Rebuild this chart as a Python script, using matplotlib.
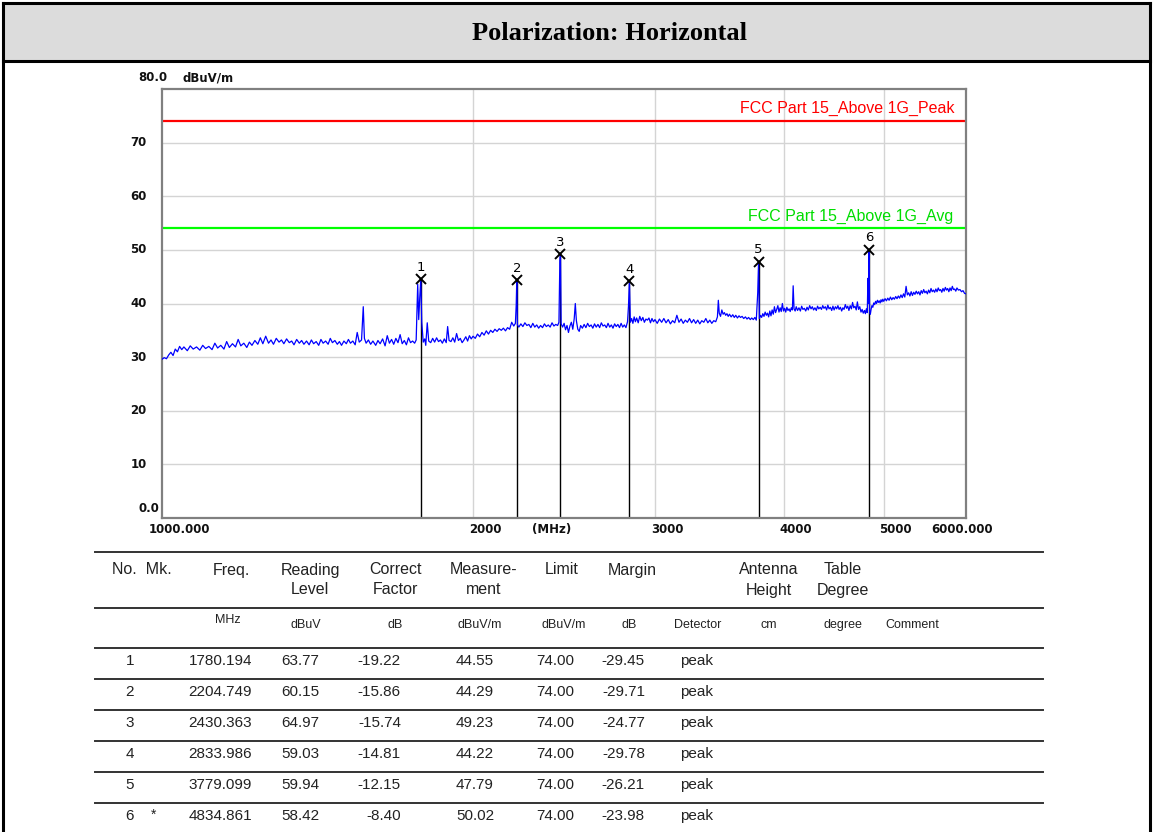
# Radiated emission plot + marker table (Polarization: Horizontal)

import matplotlib.pyplot as plt
from matplotlib.patches import Rectangle

# marker table
mk_no = ['1', '2', '3', '4', '5', '6']
mk_flag = ['', '', '', '', '', '*']
mk_freq = [1780.194, 2204.749, 2430.363, 2833.986, 3779.099, 4834.861]
reading = [63.77, 60.15, 64.97, 59.03, 59.94, 58.42]
correct = [-19.22, -15.86, -15.74, -14.81, -12.15, -8.40]
measure = [44.55, 44.29, 49.23, 44.22, 47.79, 50.02]
limit = [74.00, 74.00, 74.00, 74.00, 74.00, 74.00]
margin = [-29.45, -29.71, -24.77, -29.78, -26.21, -23.98]
detector = ['peak', 'peak', 'peak', 'peak', 'peak', 'peak']

# limit lines
peak_limit = 74.0
avg_limit = 54.0

# scanned trace, marker peaks are added from the table
trace_freq = [
    1000, 1005, 1010, 1015, 1020, 1025, 1030, 1035, 1040, 1045, 1050, 1058, 1065, 1072, 1080,
    1088, 1095, 1102, 1110, 1118, 1125, 1132, 1140, 1148, 1155, 1162, 1170, 1178, 1185, 1192,
    1200, 1208, 1215, 1222, 1230, 1238, 1245, 1252, 1260, 1268, 1275, 1282, 1290, 1298, 1305,
    1312, 1320, 1328, 1335, 1342, 1350, 1358, 1365, 1372, 1380, 1388, 1395, 1402, 1410, 1418,
    1425, 1432, 1440, 1448, 1455, 1462, 1470, 1478, 1485, 1492, 1500, 1508, 1515, 1522, 1530,
    1538, 1545, 1552, 1560, 1566, 1570, 1576, 1584, 1592, 1600, 1610, 1618, 1626, 1635, 1644,
    1652, 1660, 1668, 1676, 1684, 1692, 1700, 1708, 1716, 1724, 1732, 1740, 1748, 1756, 1762,
    1768, 1772, 1776, 1784, 1790, 1796, 1800, 1806, 1812, 1820, 1828, 1836, 1844, 1852, 1860,
    1868, 1876, 1884, 1890, 1896, 1904, 1912, 1920, 1928, 1936, 1944, 1952, 1960, 1968, 1976,
    1984, 1992, 2000, 2010, 2020, 2030, 2040, 2050, 2060, 2070, 2080, 2090, 2100, 2110, 2120,
    2130, 2140, 2150, 2160, 2170, 2180, 2190, 2198, 2202, 2208, 2215, 2225, 2235, 2245, 2255,
    2265, 2275, 2285, 2295, 2305, 2315, 2325, 2335, 2345, 2355, 2365, 2375, 2385, 2395, 2405,
    2415, 2422, 2427, 2434, 2442, 2450, 2458, 2466, 2474, 2482, 2490, 2498, 2506, 2512, 2518,
    2526, 2534, 2542, 2552, 2562, 2572, 2582, 2592, 2602, 2612, 2622, 2632, 2642, 2652, 2662,
    2672, 2682, 2692, 2702, 2712, 2722, 2732, 2742, 2752, 2762, 2772, 2782, 2792, 2802, 2812,
    2822, 2828, 2840, 2848, 2856, 2864, 2872, 2880, 2890, 2900, 2910, 2920, 2930, 2940, 2950,
    2960, 2970, 2980, 2990, 3000, 3015, 3030, 3045, 3060, 3075, 3090, 3105, 3120, 3135, 3150,
    3165, 3180, 3195, 3210, 3225, 3240, 3255, 3270, 3285, 3300, 3315, 3330, 3345, 3360, 3375,
    3390, 3405, 3420, 3435, 3448, 3455, 3462, 3472, 3482, 3492, 3502, 3512, 3522, 3532, 3542,
    3555, 3568, 3580, 3592, 3605, 3618, 3630, 3643, 3656, 3670, 3683, 3696, 3710, 3722, 3735,
    3748, 3760, 3772, 3786, 3795, 3805, 3815, 3825, 3835, 3845, 3855, 3865, 3875, 3885, 3895,
    3905, 3915, 3925, 3935, 3945, 3955, 3965, 3975, 3985, 3995, 4005, 4015, 4025, 4035, 4045,
    4055, 4065, 4075, 4082, 4090, 4100, 4110, 4122, 4135, 4148, 4160, 4172, 4185, 4198, 4210,
    4222, 4235, 4248, 4260, 4272, 4285, 4298, 4310, 4322, 4335, 4348, 4360, 4372, 4385, 4398,
    4410, 4422, 4435, 4448, 4460, 4472, 4485, 4498, 4510, 4522, 4535, 4548, 4560, 4572, 4585,
    4598, 4610, 4622, 4635, 4648, 4660, 4672, 4685, 4698, 4710, 4722, 4735, 4748, 4760, 4772,
    4785, 4795, 4805, 4815, 4822, 4826, 4840, 4848, 4856, 4865, 4875, 4885, 4895, 4905, 4915,
    4925, 4935, 4945, 4955, 4965, 4975, 4985, 4995, 5010, 5025, 5040, 5055, 5070, 5085, 5100,
    5115, 5130, 5145, 5160, 5175, 5190, 5205, 5220, 5235, 5250, 5265, 5280, 5295, 5310, 5325,
    5340, 5355, 5370, 5385, 5400, 5415, 5430, 5445, 5460, 5475, 5490, 5505, 5520, 5535, 5550,
    5565, 5580, 5595, 5610, 5625, 5640, 5655, 5670, 5685, 5700, 5715, 5730, 5745, 5760, 5775,
    5790, 5805, 5820, 5835, 5850, 5865, 5880, 5900, 5920, 5940, 5960, 5980, 6000,
]
trace_level = [
    29.6, 29.9, 29.7, 30.4, 30.9, 30.3, 31.5, 31.0, 32.0, 31.4, 31.9, 31.2, 32.1, 31.5, 31.9,
    31.3, 32.2, 31.6, 32.0, 31.4, 32.6, 31.7, 32.2, 31.5, 32.9, 31.8, 32.5, 31.9, 33.3, 32.1,
    32.6, 31.8, 32.8, 32.2, 33.1, 32.4, 33.6, 32.5, 33.9, 32.6, 33.2, 32.4, 33.5, 32.8, 33.2,
    32.5, 33.4, 32.7, 33.0, 32.3, 33.3, 32.6, 33.1, 32.4, 33.0, 32.3, 33.2, 32.5, 32.9, 32.2,
    33.3, 32.6, 33.0, 32.4, 33.5, 32.7, 33.1, 32.4, 32.9, 32.2, 33.0, 32.5, 33.3, 32.6, 33.0,
    32.3, 34.6, 32.8, 33.2, 39.4, 33.5, 32.6, 33.2, 32.4, 33.0, 32.2, 33.1, 32.5, 33.4, 32.1,
    34.0, 32.6, 33.3, 32.4, 33.5, 32.7, 34.2, 32.5, 33.1, 32.3, 33.6, 32.7, 33.0, 32.6, 33.2,
    43.6, 37.0, 41.0, 36.5, 32.8, 33.4, 32.2, 36.4, 33.0, 32.7, 33.5, 32.8, 33.6, 32.9, 33.2,
    32.6, 33.4, 32.7, 35.7, 33.1, 32.9, 33.6, 32.8, 34.4, 33.1, 33.5, 32.7, 33.2, 33.8, 33.0,
    34.0, 33.4, 33.9, 33.5, 34.3, 33.8, 34.6, 34.1, 34.9, 34.3, 35.0, 34.6, 35.2, 34.8, 35.3,
    35.0, 35.4, 34.9, 35.5, 35.2, 36.5, 35.8, 36.3, 39.7, 36.0, 35.6, 36.2, 35.7, 36.4, 35.9,
    36.1, 35.5, 36.3, 35.6, 36.0, 35.4, 35.9, 35.5, 36.2, 35.7, 36.0, 35.6, 36.4, 35.8, 36.1,
    35.9, 36.5, 48.0, 36.2, 35.6, 36.3, 35.1, 35.9, 34.6, 35.8, 36.5, 35.2, 37.2, 40.0, 36.8,
    35.2, 34.8, 35.9, 35.4, 36.1, 35.5, 36.3, 35.7, 36.0, 35.4, 36.2, 35.6, 36.1, 35.5, 36.4,
    35.8, 36.0, 35.5, 36.3, 35.6, 36.0, 35.4, 36.2, 35.7, 36.1, 35.5, 36.3, 35.6, 36.0, 35.5,
    36.6, 39.5, 36.5, 37.2, 36.3, 37.5, 36.6, 37.3, 36.4, 37.6, 36.8, 37.4, 36.5, 37.1, 36.9,
    37.3, 36.4, 37.2, 36.6, 37.0, 36.3, 37.1, 36.5, 37.2, 36.4, 37.0, 36.2, 36.8, 36.4, 37.8,
    36.5, 37.1, 36.3, 36.9, 36.5, 37.2, 36.4, 37.0, 36.3, 36.9, 36.2, 36.8, 36.5, 37.2, 36.4,
    36.9, 36.3, 36.8, 36.6, 37.5, 40.6, 38.2, 37.6, 38.8, 38.0, 38.3, 37.8, 38.1, 37.6, 38.0,
    37.5, 37.9, 37.4, 37.8, 37.3, 37.7, 37.4, 37.6, 37.2, 37.5, 37.1, 37.4, 37.0, 37.3, 37.0,
    37.4, 36.9, 42.0, 37.2, 37.8, 37.4, 38.1, 37.6, 38.4, 37.8, 38.2, 37.5, 38.6, 37.7, 38.8,
    38.0, 39.4, 38.3, 38.9, 39.6, 38.4, 39.2, 38.5, 40.0, 38.6, 39.1, 38.4, 39.3, 38.7, 39.0,
    38.5, 39.2, 38.8, 43.3, 39.0, 38.6, 39.4, 38.7, 39.2, 38.6, 39.5, 38.9, 39.1, 38.6, 39.3,
    38.8, 39.6, 39.0, 39.4, 38.8, 39.2, 38.7, 39.5, 39.0, 39.3, 38.9, 39.6, 39.1, 39.4, 38.8,
    39.7, 39.0, 39.3, 38.7, 39.5, 38.8, 39.4, 39.0, 39.6, 38.9, 39.3, 38.6, 39.2, 38.9, 39.8,
    39.1, 39.5, 38.7, 39.6, 39.0, 40.2, 39.2, 39.5, 38.8, 40.3, 38.9, 39.4, 38.4, 38.9, 38.2,
    38.7, 38.1, 39.0, 38.3, 44.7, 40.0, 38.6, 38.0, 38.9, 39.6, 39.3, 40.1, 39.8, 40.4, 40.0,
    40.6, 40.2, 40.5, 40.1, 40.7, 40.3, 40.8, 40.4, 40.9, 40.5, 41.0, 40.6, 41.2, 40.7, 41.1,
    40.8, 41.3, 40.9, 41.4, 41.0, 41.6, 41.1, 41.8, 41.2, 43.2, 41.6, 42.0, 41.4, 42.2, 41.5,
    42.1, 41.7, 42.3, 41.8, 42.2, 41.6, 42.4, 41.9, 42.6, 42.0, 42.3, 41.8, 42.5, 42.0, 42.8,
    42.2, 42.5, 42.1, 42.7, 42.2, 42.9, 42.4, 42.6, 42.1, 42.8, 42.3, 43.0, 42.5, 42.8, 42.2,
    42.9, 42.4, 43.2, 42.6, 42.7, 42.3, 42.9, 42.5, 42.6, 42.2, 42.4, 41.9, 41.8,
]

# put the marker peaks into the trace
pts = sorted(zip(trace_freq + mk_freq, trace_level + measure))
all_freq = [p[0] for p in pts]
all_level = [p[1] for p in pts]

W, H = 1153, 832
fig = plt.figure(figsize=(W / 100, H / 100), dpi=100)

# page background: frame, title box, table
bg = fig.add_axes([0, 0, 1, 1])
bg.set_xlim(0, W)
bg.set_ylim(H, 0)
bg.axis('off')
bg.add_patch(Rectangle((3, 3), 1147, 58, facecolor='#dcdcdc', edgecolor='none'))
bg.plot([3, 1150], [3, 3], color='k', lw=2.2)
bg.plot([3, 1150], [61, 61], color='k', lw=2.2)
bg.plot([3, 3], [3, H], color='k', lw=2.2)
bg.plot([1150, 1150], [3, H], color='k', lw=2.2)
bg.text(609, 33, 'Polarization: Horizontal', ha='center', va='center',
        fontsize=19, fontweight='bold', family='Liberation Serif')

tf = dict(family='Liberation Sans', color='#222222')
# header
for y in [552, 608, 648, 679, 710, 741, 772, 803]:
    bg.plot([95, 1043], [y, y], color='#333333', lw=1.4)
bg.text(112, 570, 'No.  Mk.', ha='left', va='center', fontsize=11.5, **tf)
head = [(231, 'Freq.', ''), (310, 'Reading', 'Level'), (395, 'Correct', 'Factor'),
        (484, 'Measure-', 'ment'), (562, 'Limit', ''), (632, 'Margin', ''),
        (769, 'Antenna', 'Height'), (843, 'Table', 'Degree')]
for x, l1, l2 in head:
    bg.text(x, 570, l1, ha='center', va='center', fontsize=11.5, **tf)
    if l2:
        bg.text(x, 590, l2, ha='center', va='center', fontsize=11.5, **tf)
units = [(228, 'MHz'), (306, 'dBuV'), (395, 'dB'), (480, 'dBuV/m'), (564, 'dBuV/m'),
         (629, 'dB'), (698, 'Detector'), (769, 'cm'), (843, 'degree'), (912, 'Comment')]
for x, u in units:
    bg.text(x, 620 if u == 'MHz' else 625, u, ha='center', va='center', fontsize=9, **tf)

# rows
for i in range(len(mk_no)):
    y = 661 + i * 31
    bg.text(130, y, mk_no[i], ha='center', va='center', fontsize=11, **tf)
    bg.text(154, y - 1, mk_flag[i], ha='center', va='center', fontsize=10, **tf)
    bg.text(252, y, '%.3f' % mk_freq[i], ha='right', va='center', fontsize=11, **tf)
    bg.text(319, y, '%.2f' % reading[i], ha='right', va='center', fontsize=11, **tf)
    bg.text(401, y, '%.2f' % correct[i], ha='right', va='center', fontsize=11, **tf)
    bg.text(494, y, '%.2f' % measure[i], ha='right', va='center', fontsize=11, **tf)
    bg.text(574, y, '%.2f' % limit[i], ha='right', va='center', fontsize=11, **tf)
    bg.text(645, y, '%.2f' % margin[i], ha='right', va='center', fontsize=11, **tf)
    bg.text(680, y, detector[i], ha='left', va='center', fontsize=11, **tf)

# spectrum plot
ax = fig.add_axes([162 / W, (H - 518) / H, 804 / W, 429 / H])
ax.set_xscale('log')
ax.set_xlim(1000, 6000)
ax.set_ylim(0, 80)
for s in ax.spines.values():
    s.set_color('#808080')
    s.set_linewidth(1.6)
ax.set_xticks([], minor=True)
ax.set_xticks([])
ax.set_yticks([])
for v in [10, 20, 30, 40, 50, 60, 70]:
    ax.axhline(v, color='#d4d4d4', lw=1.0, zorder=0)
for f in [2000, 3000, 4000, 5000]:
    ax.axvline(f, color='#d4d4d4', lw=1.0, zorder=0)

lab = dict(fontsize=8.5, fontweight='bold', family='DejaVu Sans', color='#111111')
for v in [10, 20, 30, 40, 50, 60, 70]:
    ax.annotate(str(v), xy=(0, v), xycoords=('axes fraction', 'data'), xytext=(-11, 0),
                textcoords='offset points', ha='right', va='center', **lab)
ax.annotate('0.0', xy=(0, 0), xycoords='axes fraction', xytext=(-2, 7),
            textcoords='offset points', ha='right', va='center', **lab)
ax.annotate('80.0', xy=(0, 1), xycoords='axes fraction', xytext=(4, 8),
            textcoords='offset points', ha='right', va='center', **lab)
ax.annotate('dBuV/m', xy=(0, 1), xycoords='axes fraction', xytext=(15, 8),
            textcoords='offset points', ha='left', va='center', **lab)
xt = [(1000, '1000.000', -9.5), (2000, '2000', -3), (3000, '3000', -3),
      (4000, '4000', -3), (5000, '5000', -3.5), (6000, '6000.000', -25)]
for f, t, dx in xt:
    ax.annotate(t, xy=(f, 0), xycoords=('data', 'axes fraction'), xytext=(dx, -8.5),
                textcoords='offset points', ha='left', va='center', **lab)
ax.annotate('(MHz)', xy=(0.460, 0), xycoords='axes fraction', xytext=(0, -8.5),
            textcoords='offset points', ha='left', va='center', **lab)

# limits
ax.axhline(peak_limit, color='#ff0000', lw=1.6, zorder=2)
ax.axhline(avg_limit, color='#00ff00', lw=1.6, zorder=2)
ax.text(0.986, peak_limit + 2.3, 'FCC Part 15_Above 1G_Peak', transform=ax.get_yaxis_transform(),
        ha='right', va='center', color='#ff0000', fontsize=11.5, family='Liberation Sans')
ax.text(0.984, avg_limit + 2.3, 'FCC Part 15_Above 1G_Avg', transform=ax.get_yaxis_transform(),
        ha='right', va='center', color='#00dd00', fontsize=11.5, family='Liberation Sans')

# markers
ax.vlines(mk_freq, 0, measure, color='k', lw=1.0, zorder=2)
ax.plot(all_freq, all_level, color='#0000ff', lw=0.9, zorder=3)
ax.plot(mk_freq, measure, 'x', color='k', ms=7, mew=1.4, zorder=4)
for f, m, n in zip(mk_freq, measure, mk_no):
    ax.annotate(n, xy=(f, m), xytext=(0, 8.5), textcoords='offset points',
                ha='center', va='center', fontsize=9.5, family='DejaVu Sans', zorder=5)

plt.savefig('out.png', dpi=100)
